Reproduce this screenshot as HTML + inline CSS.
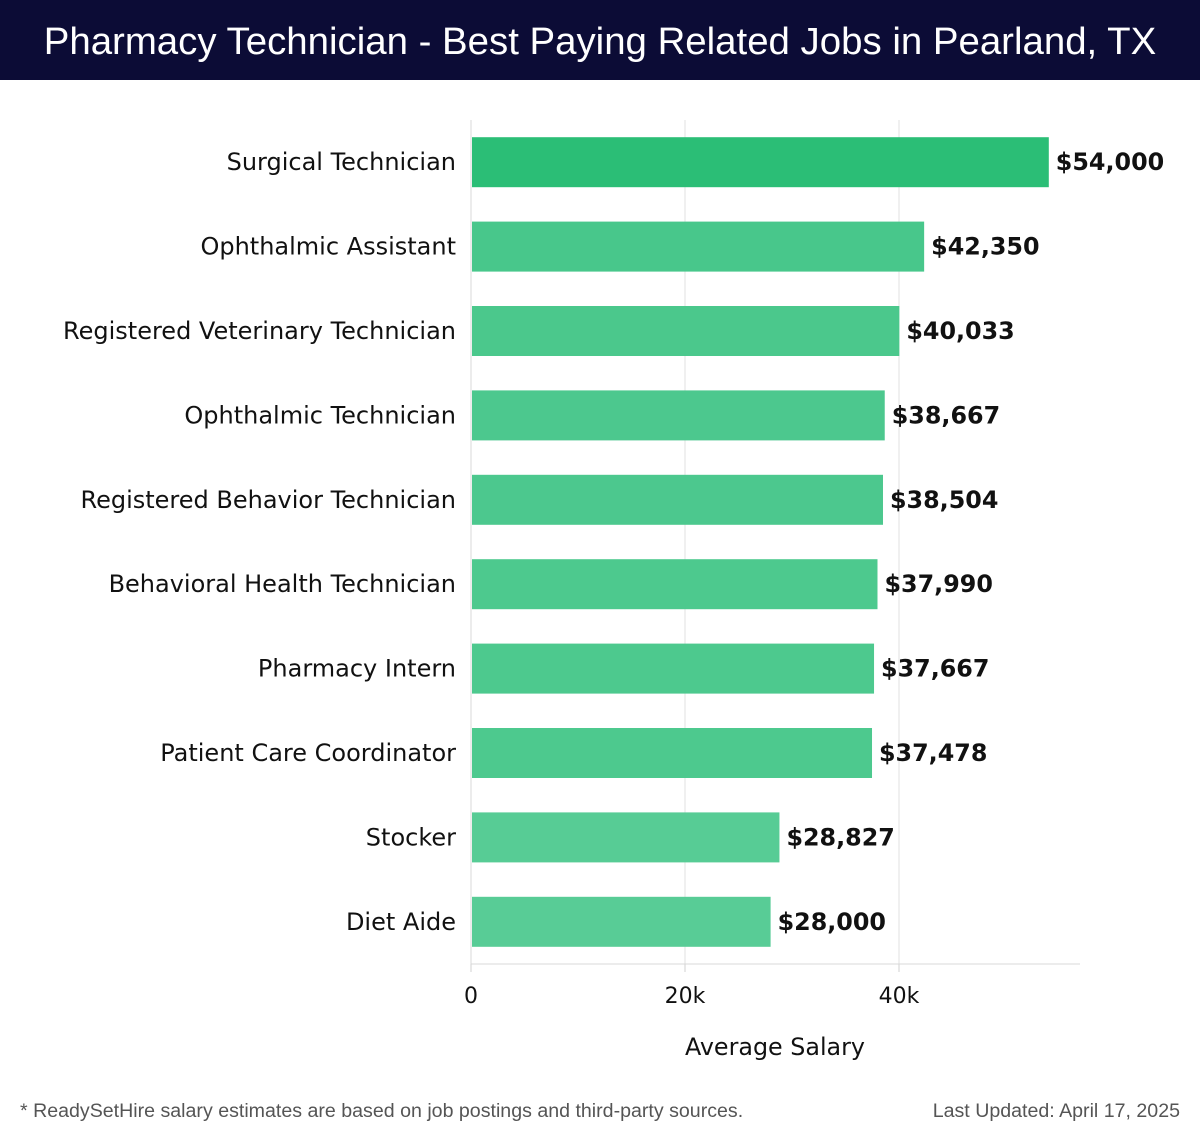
<!DOCTYPE html>
<html><head><meta charset="utf-8"><style>
body{margin:0;width:1200px;height:1140px;background:#fff;overflow:hidden;font-family:"Liberation Sans","DejaVu Sans",sans-serif}
#title{position:absolute;left:0;top:0;width:1200px;height:80px;background:#0c0c36;color:#fff;font-size:38.4px;line-height:84px;text-align:center;letter-spacing:0px}
svg{position:absolute;left:0;top:0;font-family:"DejaVu Sans",sans-serif}
.foot{position:absolute;top:1100px;font-size:19.6px;color:#555}
</style></head><body>
<div id="title">Pharmacy Technician - Best Paying Related Jobs in Pearland, TX</div>
<svg id="chart" width="1200" height="1140"></svg>
<div class="foot" style="left:20px">* ReadySetHire salary estimates are based on job postings and third-party sources.</div>
<div class="foot" style="right:20px">Last Updated: April 17, 2025</div>
<script>
const categories=["Surgical Technician","Ophthalmic Assistant","Registered Veterinary Technician","Ophthalmic Technician","Registered Behavior Technician","Behavioral Health Technician","Pharmacy Intern","Patient Care Coordinator","Stocker","Diet Aide"];
const values=[54000,42350,40033,38667,38504,37990,37667,37478,28827,28000];
const valueLabels=["$54,000","$42,350","$40,033","$38,667","$38,504","$37,990","$37,667","$37,478","$28,827","$28,000"];
const ticks=[0,20000,40000];
const tickLabels=["0","20k","40k"];
const NS="http://www.w3.org/2000/svg";
const svg=document.getElementById('chart');
const x0=471,pxPerUnit=214/20000,plotTop=120,band=84.4,barH=50,xEnd=1080;
const xs=v=>x0+v*pxPerUnit;
const yc=i=>plotTop+band*i+band/2;
function mk(t,a){const e=document.createElementNS(NS,t);for(const k in a)e.setAttribute(k,a[k]);svg.appendChild(e);return e;}
ticks.forEach((t,i)=>{
  if(t>0){const g=mk('line',{x1:xs(t),x2:xs(t),y1:plotTop,y2:964,stroke:'#e2e2e2','stroke-width':1});
  
  }
  const tk=mk('line',{x1:xs(t),x2:xs(t),y1:964,y2:972,stroke:'#d0d0d0'});
  
  
  const tl=mk('text',{x:xs(t),y:1003,'text-anchor':'middle','font-size':22,fill:'#111'});
  tl.textContent=tickLabels[i];
  
  
});
const ax=mk('line',{x1:x0,x2:x0,y1:plotTop,y2:964,stroke:'#d8d8d8'});


const bx=mk('line',{x1:x0,x2:xEnd,y1:964,y2:964,stroke:'#d8d8d8'});


const maxV=Math.max(...values);
values.forEach((v,i)=>{
  const f=v/maxV;
  const c0=[43,190,118],c1=[88,204,150];
  const tt=Math.min(1,(1-f)/0.48);
  const col='rgb('+c0.map((c,j)=>Math.round(c+(c1[j]-c)*(0.35+0.65*tt)*(f<1?1:0))).join(',')+')';
  const r=mk('rect',{x:x0+1,y:yc(i)-barH/2,width:xs(v)-x0-1,height:barH,fill:col});
  
  
  const l=mk('text',{x:456,y:yc(i)+8,'text-anchor':'end','font-size':24,fill:'#111'});
  l.textContent=categories[i];
  
  
  const vl=mk('text',{x:xs(v)+7,y:yc(i)+8,'font-size':23.8,'font-weight':'bold',fill:'#111'});
  vl.textContent=valueLabels[i];
  
  
});
const at=mk('text',{x:775,y:1055,'text-anchor':'middle','font-size':23.8,fill:'#111'});
at.textContent='Average Salary';


</script>
</body></html>
